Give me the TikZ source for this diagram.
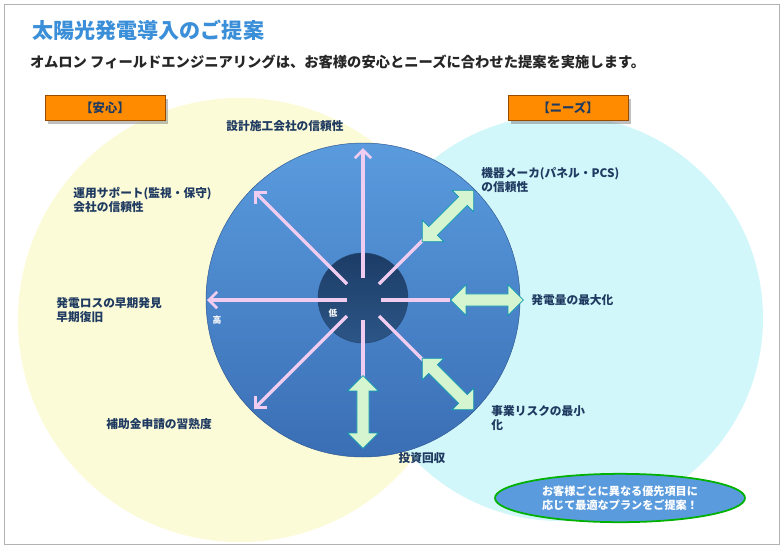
\documentclass[tikz,border=0pt]{standalone}
\usepackage{fontspec}
\setmainfont{Noto Sans CJK JP}
\usetikzlibrary{shapes.arrows,shapes.geometric,shadows,arrows.meta}
\definecolor{navy}{HTML}{1F3A60}
\definecolor{ttl}{HTML}{3A8FD8}
\definecolor{pink}{HTML}{F0CCF0}
\definecolor{grn}{HTML}{D4F5CF}
\definecolor{balltop}{HTML}{5A9BDE}
\definecolor{ballbot}{HTML}{3A6EB5}
\definecolor{yel}{HTML}{FCFBD8}
\definecolor{cya}{HTML}{D2F7FA}
\definecolor{coret}{HTML}{1C3C66}
\definecolor{coreb}{HTML}{2C5687}
\begin{document}
\begin{tikzpicture}[x=0.03cm,y=-0.03cm,
 lbl/.style={text=navy,font=\bfseries\fontsize{10}{12}\selectfont,align=left,inner sep=1pt},
 ray/.style={pink,line width=2.8pt,-{Straight Barb[length=7pt,width=14pt,line width=2.4pt]}},
 seg/.style={pink,line width=2.8pt},
 dbl/.style={double arrow,fill=grn,draw=navy!50!cyan,line width=0.6pt,minimum height=62pt,minimum width=26pt,double arrow head extend=5pt,inner sep=3pt},
 tab/.style={fill=orange!90!yellow,draw=orange!60!black,text=navy,font=\bfseries\fontsize{10.5}{12}\selectfont,minimum width=3.6cm,minimum height=0.75cm,drop shadow}]
\path[use as bounding box] (0,0) rectangle (783,548);
\draw[gray!60,fill=white] (4,4) rectangle (779,544);
\node[anchor=west,text=ttl,font=\bfseries\fontsize{18}{20}\selectfont] (title) at (28,30) {太陽光発電導入のご提案};
\node[anchor=west,text=black!85,font=\bfseries\fontsize{12.2}{14}\selectfont,inner sep=0pt] (sub) at (30,62) {オムロン フィールドエンジニアリングは、お客様の安心とニーズに合わせた提案を実施します。};
\fill[yel] (240,320) circle (222);
\fill[cya] (560,318) circle (203);
\node[tab] (anshin) at (105,108) {【安心】};
\node[tab] (needs) at (568,108) {【ニーズ】};
\shade[top color=balltop,bottom color=ballbot,draw=ballbot!80!black,line width=0.4pt] (363,300) circle (157);
\shade[top color=coret,bottom color=coreb,draw=coreb!80!black] (363,298) circle (45);
\draw[ray] (363,278) -- (363,148);
\draw[ray] (347,284) -- (254,191);
\draw[ray] (347,300) -- (207,300);
\draw[ray] (347,316) -- (254,409);
\draw[seg] (379,284) -- (425,238);
\draw[seg] (381,300) -- (450,300);
\draw[seg] (379,316) -- (425,362);
\draw[seg] (363,320) -- (363,380);
\node[dbl,rotate=45] (d1) at (448,216) {};
\node[dbl] (d2) at (487,300) {};
\node[dbl,rotate=-45] (d3) at (448,384) {};
\node[dbl,rotate=90] (d4) at (363,412) {};
\node[text=white!85,font=\bfseries\fontsize{7.5}{8}\selectfont] (low) at (333,313) {低};
\node[text=white!85,font=\bfseries\fontsize{7.5}{8}\selectfont] (high) at (217,320) {高};
\node[lbl] (l1) at (285,126) {設計施工会社の信頼性};
\node[lbl,anchor=west] (l2) at (72,200) {運用サポート(監視・保守)\\会社の信頼性};
\node[lbl,anchor=west] (l3) at (55,310) {発電ロスの早期発見\\早期復旧};
\node[lbl,anchor=west] (l4) at (105,424) {補助金申請の習熟度};
\node[lbl] (l5) at (422,458) {投資回収};
\node[lbl,anchor=west] (l6) at (480,180) {機器メーカ(パネル・PCS)\\の信頼性};
\node[lbl,anchor=west] (l7) at (530,300) {発電量の最大化};
\node[lbl,anchor=west] (l8) at (490,418) {事業リスクの最小\\化};
\node[ellipse,draw=green!70!black,line width=1.5pt,fill=balltop,text=white,font=\bfseries\fontsize{9.5}{11.5}\selectfont,align=center,minimum width=7.5cm,minimum height=1.45cm,inner sep=0pt] (note) at (620,498) {お客様ごとに異なる優先項目に\\応じて最適なプランをご提案！};
\end{tikzpicture}
\end{document}
